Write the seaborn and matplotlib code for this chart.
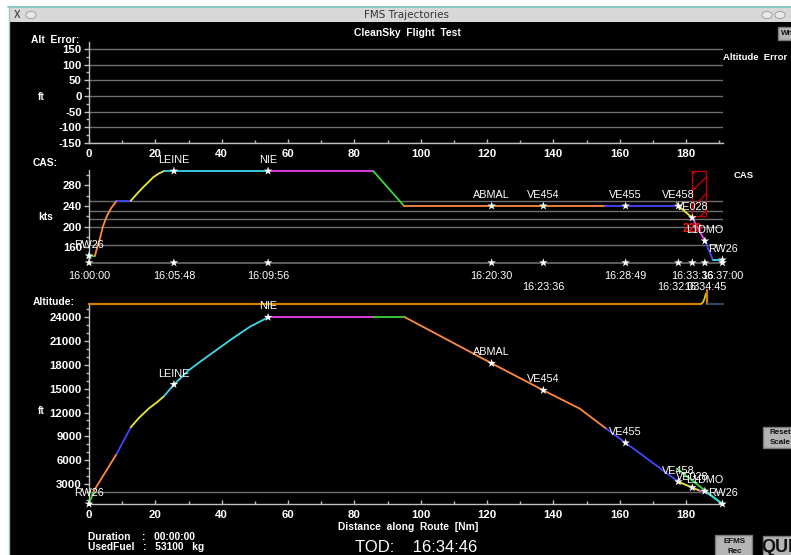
import numpy as np
import pandas as pd
import matplotlib
matplotlib.use("Agg")
import matplotlib.pyplot as plt
import seaborn as sns
from matplotlib.patches import Rectangle, Circle
from matplotlib.ticker import MultipleLocator

# ---------------- data ----------------
wp_names = ["RW26", "LEINE", "NIE", "ABMAL", "VE454", "VE455", "VE458", "VE028", "L1DMO", "RW26"]
wp_dist = [0.0, 25.6, 54.0, 121.4, 137.0, 161.8, 177.7, 181.9, 185.7, 191.0]
wp_cas = [143, 308, 308, 240, 240, 240, 240, 217, 172, 135]
wp_alt = [480, 15540, 24000, 18200, 14800, 8180, 3290, 2540, 2100, 480]
wp_time = ["16:00:00", "16:05:48", "16:09:56", "16:20:30", "16:23:36",
           "16:28:49", "16:32:03", "16:33:36", "16:34:45", "16:37:00"]
wp_time_row = [0, 0, 0, 0, 1, 0, 1, 0, 1, 0]

# CAS profile segments (distance [Nm], CAS [kts], colour)
cas_green1_x = [0.0, 1.8];                 cas_green1_y = [143, 143]
cas_orange1_x = [1.8, 2.5, 3.3, 4.2, 5.3, 6.7, 8.35]
cas_orange1_y = [143, 160, 177, 200, 219, 236, 250]
cas_blue1_x = [8.35, 12.6];                cas_blue1_y = [250, 250]
cas_yellow1_x = [12.6, 14.5, 16.4, 18.0, 19.4, 21.0, 22.6]
cas_yellow1_y = [250, 264, 277, 287, 296, 303, 308]
cas_cyan1_x = [22.6, 54.0];                cas_cyan1_y = [308, 308]
cas_magenta1_x = [54.0, 85.7];             cas_magenta1_y = [308, 308]
cas_green2_x = [85.7, 95.0];               cas_green2_y = [308, 240]
cas_orange2_x = [95.0, 155.6];             cas_orange2_y = [240, 240]
cas_blue2_x = [155.6, 177.7];              cas_blue2_y = [240, 240]
cas_yellow2_x = [177.7, 181.9];            cas_yellow2_y = [240, 217]
cas_magenta2_x = [181.9, 185.7];           cas_magenta2_y = [217, 172]
cas_blue3_x = [185.7, 188.1];              cas_blue3_y = [172, 135]
cas_cyan2_x = [188.1, 191.0];              cas_cyan2_y = [135, 135]
cas_grid = [250, 230, 215, 200, 165]
cas_base = 129.5
cas_constraint_x = [181.8, 186.0]
cas_constraint_y = [220, 309]
cas_constraint_label = "220"

# Altitude profile segments (distance [Nm], altitude [ft])
alt_green1_x = [0.0, 1.4];                 alt_green1_y = [480, 2100]
alt_orange1_x = [1.4, 8.35];               alt_orange1_y = [2100, 6800]
alt_blue1_x = [8.35, 12.6];                alt_blue1_y = [6800, 10150]
alt_yellow1_x = [12.6, 15.0, 18.0, 20.5, 22.6]
alt_yellow1_y = [10150, 11300, 12500, 13300, 14050]
alt_cyan1_x = [22.6, 25.6, 30.0, 33.5, 38.5, 43.5, 48.5, 54.0]
alt_cyan1_y = [14050, 15520, 17300, 18400, 19900, 21400, 22800, 24000]
alt_magenta1_x = [54.0, 85.7];             alt_magenta1_y = [24000, 24000]
alt_green2_x = [85.7, 95.3];               alt_green2_y = [24000, 24000]
alt_orange2_x = [95.3, 121.4, 137.0, 148.0, 156.0]
alt_orange2_y = [24000, 18200, 14800, 12480, 9950]
alt_blue2_x = [156.0, 161.8, 177.7];       alt_blue2_y = [9950, 8180, 3290]
alt_green3_x = [177.2, 191.0];             alt_green3_y = [4950, 480]
alt_yellow2_x = [177.7, 181.9, 184.2];     alt_yellow2_y = [3290, 2540, 2150]
alt_magenta2_x = [184.2, 185.7];           alt_magenta2_y = [2150, 2100]
alt_cyan2_x = [185.7, 191.0];              alt_cyan2_y = [2100, 480]
alt_grid = [2050]
top_line_x = [0.0, 184.6];                 top_line_y = [25700, 25700]
top_curve_x = [184.6, 185.2, 185.6, 186.0]; top_curve_y = [25700, 25950, 26400, 27000]
top_step_x = [186.2, 186.2];               top_step_y = [25700, 27500]
top_tail_x = [186.5, 191.2];               top_tail_y = [25700, 25700]

alt_err_grid = [-150, -100, -50, 0, 50, 100, 150]

# ---------------- style ----------------
sns.set_style("dark", {"axes.facecolor": "black"})
plt.rcParams["font.family"] = ["Liberation Sans", "DejaVu Sans"]
plt.rcParams["axes.unicode_minus"] = False
plt.rcParams["hatch.color"] = "#c00000"
plt.rcParams["hatch.linewidth"] = 1.0

W, H = 791, 555
fig = plt.figure(figsize=(W / 100, H / 100), dpi=100)
fig.patch.set_facecolor("white")

def fx(x):
    return x / W

def fy(y):
    return 1 - y / H

def rect(l, t, r, b):
    return [l / W, 1 - b / H, (r - l) / W, (b - t) / H]

# window chrome
fig.add_artist(Rectangle((fx(9), 0), 1, fy(22), transform=fig.transFigure,
                         facecolor="black", edgecolor="none", zorder=0))
fig.add_artist(Rectangle((fx(9), fy(22)), 1, (22 - 8) / H, transform=fig.transFigure,
                         facecolor="#d8d8d8", edgecolor="none", zorder=0))
fig.add_artist(plt.Line2D([fx(8), 1], [fy(7), fy(7)], transform=fig.transFigure,
                          color="#6fbfb8", lw=1.2))
fig.add_artist(plt.Line2D([fx(8.5), fx(8.5)], [0, fy(7)], transform=fig.transFigure,
                          color="#8fcfc8", lw=1.0))
fig.text(fx(406), fy(15), "FMS Trajectories", ha="center", va="center",
         fontsize=7.5, color="#333333", family="DejaVu Sans")
fig.text(fx(17), fy(15), "X", ha="center", va="center", fontsize=7,
         color="#555555", fontweight="bold")
for cx in (31, 767, 780):
    fig.add_artist(Circle((fx(cx), fy(15)), 0.0065, transform=fig.transFigure,
                          facecolor="#e8e8e8", edgecolor="#999999", lw=0.6))

# buttons
def button(l, t, r, b, lines, fs):
    fig.add_artist(Rectangle((fx(l), fy(b)), (r - l) / W, (b - t) / H,
                             transform=fig.transFigure, facecolor="#b4b4b4",
                             edgecolor="#7a7a7a", lw=1.0, zorder=3))
    cy = (t + b) / 2
    n = len(lines)
    for i, s in enumerate(lines):
        yy = cy + (i - (n - 1) / 2) * fs * 1.25
        fig.text(fx((l + r) / 2 + 1), fy(yy), s, ha="center", va="center",
                 fontsize=fs * 0.72, color="#111111", fontweight="bold", zorder=4)

button(778, 27, 795, 40, ["Wh"], 8)
button(763, 427, 795, 448, ["Reset", "Scale"], 8)
button(715, 535, 752, 558, ["EFMS", "Rec"], 8)
button(763, 536, 800, 558, ["QUIT"], 18)

# ---------------- axes ----------------
ax1 = fig.add_axes(rect(89, 42, 723, 143))
ax2 = fig.add_axes(rect(89, 170, 723, 263))
ax3 = fig.add_axes(rect(89, 303, 723, 504))

SPINE = "#c0c0c0"
GRID = "#6e6e6e"
XMAX = 191.15

for ax in (ax1, ax2, ax3):
    ax.set_facecolor("black")
    ax.set_xlim(0, XMAX)
    for s in ("top", "right"):
        ax.spines[s].set_visible(False)
    ax.spines["left"].set_color(SPINE)
    ax.spines["bottom"].set_color(SPINE)
    ax.spines["left"].set_linewidth(1.0)
    ax.spines["bottom"].set_linewidth(1.0)
    ax.tick_params(axis="y", which="major", direction="out", length=3.6, width=1,
                   color=SPINE, labelcolor="white", labelsize=8.2, pad=1.5, left=True)
    ax.tick_params(axis="y", which="minor", direction="out", length=2.0, width=1,
                   color=SPINE, left=True)
    ax.tick_params(axis="x", which="major", direction="in", length=3.2, width=1,
                   color=SPINE, labelcolor="white", labelsize=8.2, pad=4.5, bottom=True)
    ax.tick_params(axis="x", which="minor", direction="in", length=2.0, width=1,
                   color=SPINE, bottom=True)
    ax.grid(False)
    ax.set_xlabel("")
    ax.set_ylabel("")

for ax in (ax1, ax3):
    ax.xaxis.set_major_locator(MultipleLocator(20))
    ax.xaxis.set_minor_locator(MultipleLocator(10))

# --- Altitude error panel ---
ax1.set_ylim(-150, 172)
ax1.yaxis.set_major_locator(MultipleLocator(50))
ax1.yaxis.set_minor_locator(MultipleLocator(25))
for g in alt_err_grid:
    ax1.axhline(g, color=GRID, lw=1.0, zorder=1)

# --- CAS panel ---
ax2.set_ylim(129, 310)
ax2.yaxis.set_major_locator(MultipleLocator(40))
ax2.yaxis.set_minor_locator(MultipleLocator(20))
ax2.set_xticks([])
ax2.spines["bottom"].set_visible(False)
for g in cas_grid:
    ax2.axhline(g, color=GRID, lw=1.0, zorder=1)
ax2.axhline(cas_base, color=GRID, lw=1.2, zorder=1, clip_on=False)

C_OR = "#ff8a3d"
C_BL = "#4646ff"
C_YE = "#e8e83a"
C_CY = "#3fd8ec"
C_MA = "#f040f0"
C_GR = "#3ad83a"

def seg(ax, x, y, c, lw=1.3, **kw):
    sns.lineplot(x=x, y=y, ax=ax, color=c, lw=lw, sort=False, estimator=None,
                 legend=False, zorder=3, **kw)

cas_segments = [
    (cas_green1_x, cas_green1_y, C_GR), (cas_orange1_x, cas_orange1_y, C_OR),
    (cas_blue1_x, cas_blue1_y, C_BL), (cas_yellow1_x, cas_yellow1_y, C_YE),
    (cas_cyan1_x, cas_cyan1_y, C_CY), (cas_magenta1_x, cas_magenta1_y, C_MA),
    (cas_green2_x, cas_green2_y, C_GR), (cas_orange2_x, cas_orange2_y, C_OR),
    (cas_blue2_x, cas_blue2_y, C_BL), (cas_yellow2_x, cas_yellow2_y, C_YE),
    (cas_magenta2_x, cas_magenta2_y, C_MA), (cas_blue3_x, cas_blue3_y, C_BL),
    (cas_cyan2_x, cas_cyan2_y, C_CY),
]
for x, y, c in cas_segments:
    seg(ax2, x, y, c)

# speed constraint box
ax2.add_patch(Rectangle((cas_constraint_x[0], cas_constraint_y[0]),
                        cas_constraint_x[1] - cas_constraint_x[0],
                        cas_constraint_y[1] - cas_constraint_y[0],
                        facecolor="none", edgecolor="#c00000", hatch="//",
                        lw=1.0, zorder=2, clip_on=False))
ax2.annotate(cas_constraint_label, (wp_dist[7], wp_cas[7]), xytext=(0, -8),
             textcoords="offset points", ha="center", va="center",
             color="#ff1010", fontsize=8.5, fontweight="bold", zorder=6)

sns.scatterplot(x=wp_dist, y=wp_cas, ax=ax2, marker="*", s=42, color="white",
                edgecolor="none", zorder=5, clip_on=False, legend=False)
sns.scatterplot(x=wp_dist, y=[cas_base] * len(wp_dist), ax=ax2, marker="*", s=42,
                color="white", edgecolor="none", zorder=5, clip_on=False, legend=False)
for n, d, v in zip(wp_names, wp_dist, wp_cas):
    ax2.annotate(n, (d, v), xytext=(0, 7.8), textcoords="offset points",
                 ha="center", va="center", color="white", fontsize=7.8,
                 zorder=6, annotation_clip=False)
for t, d, r in zip(wp_time, wp_dist, wp_time_row):
    ax2.annotate(t, (d, cas_base), xytext=(0, -9.5 - 8.0 * r), textcoords="offset points",
                 ha="center", va="center", color="white", fontsize=7.8,
                 zorder=6, annotation_clip=False)

# --- Altitude panel ---
ax3.set_ylim(480, 25800)
ax3.yaxis.set_major_locator(MultipleLocator(3000))
ax3.yaxis.set_minor_locator(MultipleLocator(1000))
for g in alt_grid:
    ax3.axhline(g, color=GRID, lw=1.0, zorder=1)

seg(ax3, top_line_x, top_line_y, "#d27f00", lw=1.6, clip_on=False)
seg(ax3, top_curve_x, top_curve_y, "#e8d020", lw=1.2, clip_on=False)
seg(ax3, top_step_x, top_step_y, "#d27f00", lw=1.6, clip_on=False)
seg(ax3, top_tail_x, top_tail_y, "#2b4a66", lw=1.6, clip_on=False)

alt_segments = [
    (alt_green1_x, alt_green1_y, C_GR), (alt_orange1_x, alt_orange1_y, C_OR),
    (alt_blue1_x, alt_blue1_y, C_BL), (alt_yellow1_x, alt_yellow1_y, C_YE),
    (alt_cyan1_x, alt_cyan1_y, C_CY), (alt_magenta1_x, alt_magenta1_y, C_MA),
    (alt_green2_x, alt_green2_y, C_GR), (alt_orange2_x, alt_orange2_y, C_OR),
    (alt_blue2_x, alt_blue2_y, C_BL), (alt_green3_x, alt_green3_y, C_GR),
    (alt_yellow2_x, alt_yellow2_y, C_YE), (alt_magenta2_x, alt_magenta2_y, C_MA),
    (alt_cyan2_x, alt_cyan2_y, C_CY),
]
for x, y, c in alt_segments:
    seg(ax3, x, y, c, clip_on=False)

sns.scatterplot(x=wp_dist, y=wp_alt, ax=ax3, marker="*", s=42, color="white",
                edgecolor="none", zorder=5, clip_on=False, legend=False)
for n, d, v in zip(wp_names, wp_dist, wp_alt):
    ax3.annotate(n, (d, v), xytext=(0, 7.8), textcoords="offset points",
                 ha="center", va="center", color="white", fontsize=7.8,
                 zorder=6, annotation_clip=False)

for ax in (ax1, ax2, ax3):
    for lab in ax.get_xticklabels() + ax.get_yticklabels():
        lab.set_fontweight("bold")

# ---------------- texts ----------------
def T(x, y, s, size=7.4, weight="bold", ha="left", color="white", **kw):
    fig.text(fx(x), fy(y), s, ha=ha, va="center", fontsize=size,
             fontweight=weight, color=color, **kw)

T(407, 33, "CleanSky  Flight  Test", ha="center")
T(31, 40, "Alt  Error:")
T(38, 97, "ft")
T(723, 57, "Altitude  Error", size=6.8)
T(33, 163, "CAS:")
T(38, 217, "kts")
T(734, 176, "CAS", size=6.8)
T(33, 302, "Altitude:")
T(38, 411, "ft")
T(408, 527, "Distance  along  Route  [Nm]", ha="center")
T(88, 537, "Duration    :   00:00:00")
T(88, 547, "UsedFuel   :   53100   kg")
T(355, 547, "TOD:    16:34:46", size=12, weight="normal")

fig.savefig("out.png", dpi=100, facecolor=fig.get_facecolor())
